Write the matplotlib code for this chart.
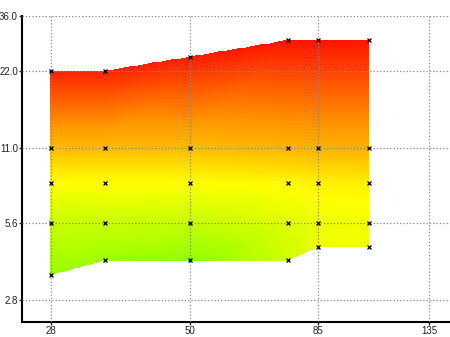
import numpy as np
import matplotlib
matplotlib.use("Agg")
import matplotlib.pyplot as plt
import matplotlib.tri as mtri
from matplotlib import font_manager
from matplotlib.colors import LinearSegmentedColormap
from matplotlib.ticker import FixedLocator, FixedFormatter, NullLocator

# sample columns (x) and the y levels measured in each column
x_cols = [28, 35, 50, 75, 85, 105]
y_bottom = [3.5, 4.0, 4.0, 4.0, 4.5, 4.5]
y_inner = [5.6, 8.0, 11.0]
y_top = [22.0, 22.0, 25.0, 29.0, 29.0, 29.0]

# colour value at each point, rows: bottom, 5.6, 8, 11, top
z_bottom = [0.08, 0.10, 0.05, 0.25, 0.36, 0.36]
z_56 = [0.22, 0.23, 0.22, 0.30, 0.34, 0.36]
z_8 = [0.40, 0.40, 0.40, 0.42, 0.44, 0.45]
z_11 = [0.60, 0.60, 0.60, 0.62, 0.63, 0.63]
z_top = [0.97, 0.97, 0.98, 1.0, 1.0, 1.0]

x_ticks = [28, 50, 85, 135]
x_labels = ["28", "50", "85", "135"]
y_ticks = [2.8, 5.6, 11.0, 22.0, 36.0]
y_labels = ["2.8", "5.6", "11.0", "22.0", "36.0"]

#------------build the mesh----------
ncol = len(x_cols)
rows_y = [y_bottom] + [[v] * ncol for v in y_inner] + [y_top]
rows_z = [z_bottom, z_56, z_8, z_11, z_top]
nrow = len(rows_y)

px, py, pz = [], [], []
for r in range(nrow):
    for c in range(ncol):
        px.append(x_cols[c])
        py.append(rows_y[r][c])
        pz.append(rows_z[r][c])

tris = []
for r in range(nrow - 1):
    for c in range(ncol - 1):
        a = r * ncol + c
        b = a + 1
        d = a + ncol
        e = d + 1
        tris.append([a, b, e])
        tris.append([a, e, d])

# interpolate in log space (the axes are log-log)
tri = mtri.Triangulation(np.log(px), np.log(py), tris)
interp = mtri.LinearTriInterpolator(tri, pz)
gx = np.linspace(np.log(min(px)), np.log(max(px)), 330)
gy = np.linspace(np.log(min(py)), np.log(max(py)), 300)
GX, GY = np.meshgrid(gx, gy)
GZ = interp(GX, GY)

cmap = LinearSegmentedColormap.from_list(
    "heat", [(0, "#80ff00"), (0.4, "#ffff00"), (0.7, "#ff9900"), (1, "#ff1400")])

names = {f.name for f in font_manager.fontManager.ttflist}
print("narrow" if "Liberation Sans Narrow" in names else "no narrow")
plt.rcParams["font.family"] = ["Liberation Sans Narrow", "Liberation Sans", "DejaVu Sans"]

fig = plt.figure(figsize=(4.5, 3.37), dpi=100)
ax = fig.add_axes([22 / 450, 15 / 337, 428 / 450, 306 / 337])
ax.set_xscale("log")
ax.set_yscale("log")

ax.pcolormesh(np.exp(GX), np.exp(GY), GZ, cmap=cmap, vmin=0, vmax=1,
              shading="nearest", zorder=1)
ax.plot(px, py, "x", color="black", markersize=3, markeredgewidth=0.9, zorder=3)

ax.set_xlim(24.82, 147.3)
ax.set_ylim(2.297, 36.0)

ax.xaxis.set_major_locator(FixedLocator(x_ticks))
ax.xaxis.set_major_formatter(FixedFormatter(x_labels))
ax.yaxis.set_major_locator(FixedLocator(y_ticks))
ax.yaxis.set_major_formatter(FixedFormatter(y_labels))
ax.xaxis.set_minor_locator(NullLocator())
ax.yaxis.set_minor_locator(NullLocator())

ax.grid(True, linestyle=":", color="#888888", linewidth=0.9, zorder=2)
ax.set_axisbelow(False)
ax.tick_params(length=2, width=1, pad=1, labelsize=7, colors="#222222")

for s in ["top", "right"]:
    ax.spines[s].set_visible(False)
for s in ["left", "bottom"]:
    ax.spines[s].set_linewidth(1.5)
    ax.spines[s].set_color("black")

plt.savefig("out.png", dpi=100)
